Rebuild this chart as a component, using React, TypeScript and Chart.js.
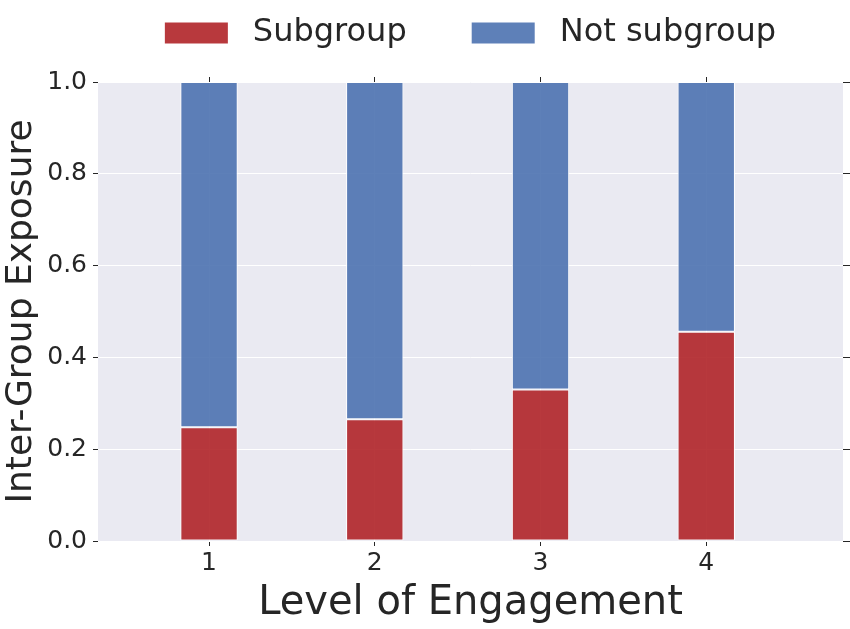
import React, { useEffect, useRef } from 'react';
import { Chart, registerables } from 'chart.js';

Chart.register(...registerables);

// ===== data =====
const levels = [1, 2, 3, 4];
const subgroupShare = [0.248, 0.265, 0.330, 0.456];
const notSubgroupShare = [0.752, 0.735, 0.670, 0.544];
const yTicks = [0, 0.2, 0.4, 0.6, 0.8, 1.0];
const seriesLabels = ['Subgroup', 'Not subgroup'];

const FONT = '"DejaVu Sans", sans-serif';
const TEXT = '#262626';
const RED = 'rgba(176, 36, 40, 0.9)';
const BLUE = 'rgba(76, 114, 176, 0.9)';

// seaborn-like grey panel behind the plot
const panelBackground = {
  id: 'panelBackground',
  beforeDraw(chart: Chart) {
    const { ctx, chartArea } = chart;
    ctx.save();
    ctx.fillStyle = '#EAEAF2';
    ctx.fillRect(chartArea.left, chartArea.top, chartArea.right - chartArea.left, chartArea.bottom - chartArea.top);
    ctx.restore();
  },
};

// matplotlib style legend centred over the axes
const topLegend = {
  id: 'topLegend',
  afterDraw(chart: Chart) {
    const { ctx, chartArea } = chart;
    const boxW = 63, boxH = 21, gap = 25, between = 65, cy = 33;
    ctx.save();
    ctx.font = `32px ${FONT}`;
    const items = chart.data.datasets.map(ds => ({
      text: ds.label as string,
      color: ds.backgroundColor as string,
      w: ctx.measureText(ds.label as string).width,
    }));
    const total = items.reduce((s, it) => s + boxW + gap + it.w, 0) + between * (items.length - 1);
    let x = (chartArea.left + chartArea.right) / 2 - total / 2;
    ctx.textBaseline = 'middle';
    ctx.textAlign = 'left';
    items.forEach(it => {
      ctx.fillStyle = it.color;
      ctx.fillRect(x, cy - boxH / 2, boxW, boxH);
      ctx.fillStyle = TEXT;
      ctx.fillText(it.text, x + boxW + gap, cy);
      x += boxW + gap + it.w + between;
    });
    ctx.restore();
  },
};

function ExposureChart() {
  const canvasRef = useRef<HTMLCanvasElement>(null);
  const chartRef = useRef<Chart | null>(null);

  useEffect(() => {
    if (!canvasRef.current) return;
    const ctx = canvasRef.current.getContext('2d');
    if (!ctx) return;

    const levelTicks = (scale: any) => { scale.ticks = levels.map(v => ({ value: v })); };
    const valueTicks = (scale: any) => { scale.ticks = yTicks.map(v => ({ value: v })); };
    const xMin = 0.33, xMax = 4.825;

    chartRef.current = new Chart(ctx, {
      type: 'bar',
      data: {
        datasets: [
          {
            label: seriesLabels[0],
            data: levels.map((l, i) => ({ x: l, y: subgroupShare[i] })),
            backgroundColor: RED,
            borderColor: '#ffffff',
            borderWidth: 1,
            borderSkipped: false,
            categoryPercentage: 1,
            barPercentage: 0.346,
          },
          {
            label: seriesLabels[1],
            data: levels.map((l, i) => ({ x: l, y: notSubgroupShare[i] })),
            backgroundColor: BLUE,
            borderColor: '#ffffff',
            borderWidth: 1,
            borderSkipped: false,
            categoryPercentage: 1,
            barPercentage: 0.346,
          },
        ],
      },
      options: {
        responsive: false,
        animation: false,
        layout: { padding: 0 },
        plugins: {
          legend: { display: false },
          tooltip: { enabled: false },
        },
        scales: {
          x: {
            type: 'linear',
            position: 'bottom',
            stacked: true,
            offset: false,
            min: xMin,
            max: xMax,
            afterBuildTicks: levelTicks,
            afterFit: (s: any) => { s.height = 88; },
            border: { display: false },
            grid: { offset: false, color: '#ffffff', lineWidth: 1, tickColor: TEXT, tickLength: 5 },
            ticks: { font: { family: FONT, size: 25 }, color: TEXT, padding: 2, callback: (v: any) => String(v) },
            title: {
              display: true,
              text: 'Level of Engagement',
              font: { family: FONT, size: 40 },
              color: TEXT,
              padding: { top: 0, bottom: 1 },
            },
          },
          xTop: {
            type: 'linear',
            axis: 'x',
            position: 'top',
            offset: false,
            min: xMin,
            max: xMax,
            afterBuildTicks: levelTicks,
            afterFit: (s: any) => { s.height = 82; },
            border: { display: false },
            grid: { offset: false, drawOnChartArea: false, tickColor: TEXT, tickLength: 5 },
            ticks: { display: false },
          },
          y: {
            type: 'linear',
            position: 'left',
            stacked: true,
            min: 0,
            max: 1,
            afterBuildTicks: valueTicks,
            afterFit: (s: any) => { s.width = 98; },
            border: { display: false },
            grid: { color: '#ffffff', lineWidth: 1, tickColor: TEXT, tickLength: 5 },
            ticks: { font: { family: FONT, size: 25 }, color: TEXT, padding: 6, callback: (v: any) => Number(v).toFixed(1) },
            title: {
              display: true,
              text: 'Inter-Group Exposure',
              font: { family: FONT, size: 36 },
              color: TEXT,
              padding: 0,
            },
          },
          yRight: {
            type: 'linear',
            axis: 'y',
            position: 'right',
            min: 0,
            max: 1,
            afterBuildTicks: valueTicks,
            afterFit: (s: any) => { s.width = 7; },
            border: { display: false },
            grid: { drawOnChartArea: false, tickColor: TEXT, tickLength: 7 },
            ticks: { display: false },
          },
        },
      },
      plugins: [panelBackground, topLegend],
    } as any);

    return () => {
      if (chartRef.current) {
        chartRef.current.destroy();
        chartRef.current = null;
      }
    };
  }, []);

  return <canvas ref={canvasRef} width={850} height={629} />;
}

export default function App() {
  return (
    <div style={{ position: 'fixed', left: 0, top: 0, width: 850, height: 629, background: '#ffffff' }}>
      <ExposureChart />
    </div>
  );
}
